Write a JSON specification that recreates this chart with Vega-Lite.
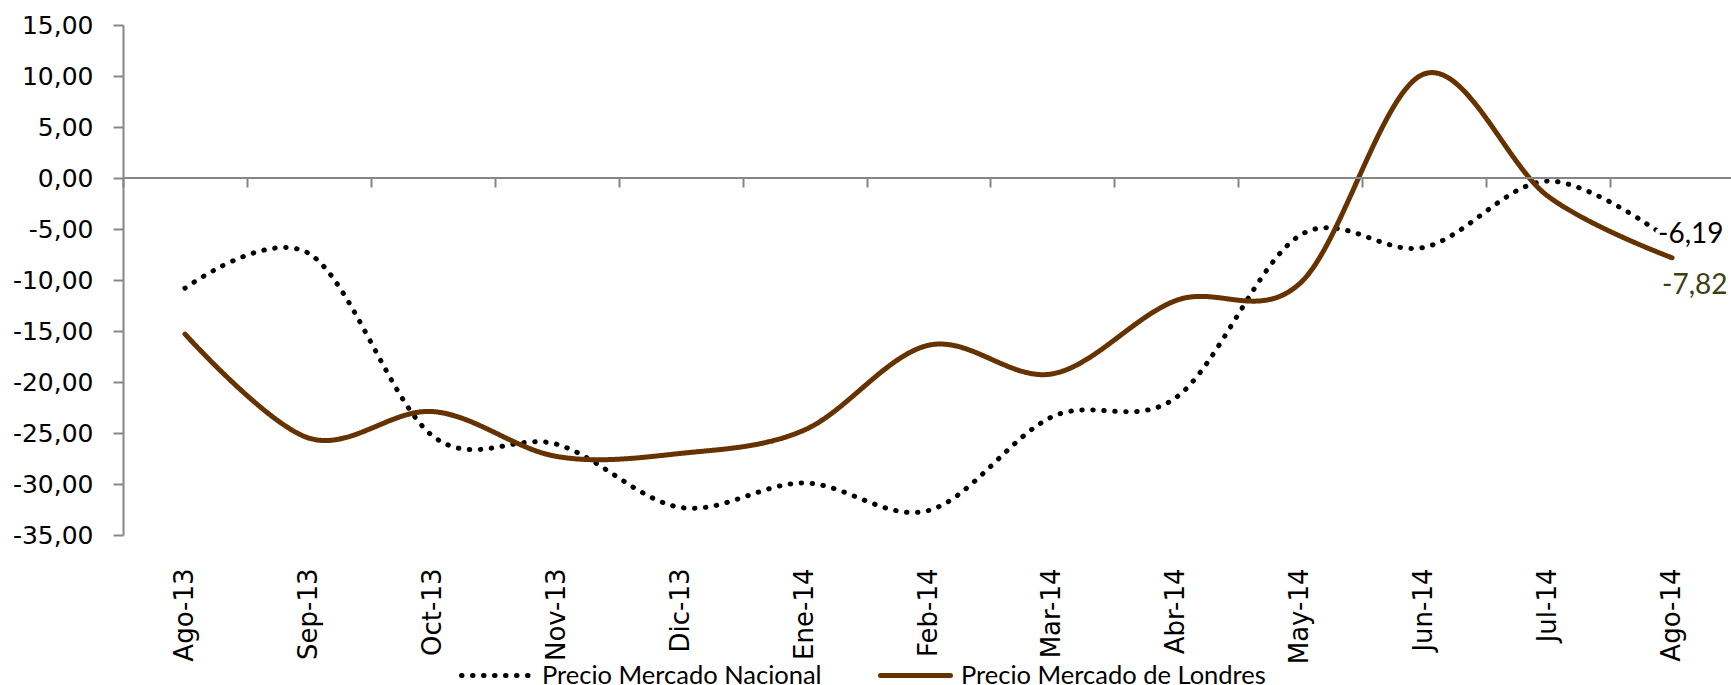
{
  "$schema": "https://vega.github.io/schema/vega-lite/v6.json",
  "autosize": {"type": "none"},
  "padding": {"left": 123, "top": 25, "right": 0, "bottom": 150},
  "width": 1611,
  "height": 510,
  "background": "white",
  "config": {
    "view": {"stroke": null},
    "locale": {"number": {"decimal": ",", "thousands": ".", "grouping": [3], "currency": ["", ""], "minus": "-"}}
  },
  "data": {
    "values": [
      {"month": "Ago-13", "series": "Precio Mercado Nacional", "value": -10.8},
      {"month": "Sep-13", "series": "Precio Mercado Nacional", "value": -7.4},
      {"month": "Oct-13", "series": "Precio Mercado Nacional", "value": -25.3},
      {"month": "Nov-13", "series": "Precio Mercado Nacional", "value": -26.1},
      {"month": "Dic-13", "series": "Precio Mercado Nacional", "value": -32.3},
      {"month": "Ene-14", "series": "Precio Mercado Nacional", "value": -29.9},
      {"month": "Feb-14", "series": "Precio Mercado Nacional", "value": -32.6},
      {"month": "Mar-14", "series": "Precio Mercado Nacional", "value": -23.4},
      {"month": "Abr-14", "series": "Precio Mercado Nacional", "value": -21.5},
      {"month": "May-14", "series": "Precio Mercado Nacional", "value": -5.6},
      {"month": "Jun-14", "series": "Precio Mercado Nacional", "value": -6.8},
      {"month": "Jul-14", "series": "Precio Mercado Nacional", "value": -0.3},
      {"month": "Ago-14", "series": "Precio Mercado Nacional", "value": -6.19},
      {"month": "Ago-13", "series": "Precio Mercado de Londres", "value": -15.3},
      {"month": "Sep-13", "series": "Precio Mercado de Londres", "value": -25.5},
      {"month": "Oct-13", "series": "Precio Mercado de Londres", "value": -22.9},
      {"month": "Nov-13", "series": "Precio Mercado de Londres", "value": -27.3},
      {"month": "Dic-13", "series": "Precio Mercado de Londres", "value": -27.0},
      {"month": "Ene-14", "series": "Precio Mercado de Londres", "value": -24.7},
      {"month": "Feb-14", "series": "Precio Mercado de Londres", "value": -16.4},
      {"month": "Mar-14", "series": "Precio Mercado de Londres", "value": -19.2},
      {"month": "Abr-14", "series": "Precio Mercado de Londres", "value": -12.0},
      {"month": "May-14", "series": "Precio Mercado de Londres", "value": -10.3},
      {"month": "Jun-14", "series": "Precio Mercado de Londres", "value": 10.2},
      {"month": "Jul-14", "series": "Precio Mercado de Londres", "value": -1.8},
      {"month": "Ago-14", "series": "Precio Mercado de Londres", "value": -7.82}
    ]
  },
  "resolve": {"axis": {"x": "independent"}},
  "layer": [
    {
      "mark": {"type": "line", "interpolate": "cardinal", "tension": 0, "strokeWidth": 5, "strokeCap": "round"},
      "encoding": {
        "x": {
          "field": "month", "type": "nominal", "sort": null, "bandPosition": 0.5,
          "scale": {"type": "band", "paddingInner": 0, "paddingOuter": 0},
          "axis": {
            "orient": "bottom", "title": null, "domain": false, "ticks": false,
            "labelAngle": 270, "labelPadding": 33, "labelFont": "DejaVu Sans", "labelFontSize": 26,
            "labelColor": "#000000"
          }
        },
        "y": {
          "field": "value", "type": "quantitative",
          "scale": {"domain": [-35, 15], "nice": false, "zero": false},
          "axis": {
            "title": null, "grid": false, "values": [-35, -30, -25, -20, -15, -10, -5, 0, 5, 10, 15],
            "format": ".2f", "labelFont": "DejaVu Sans", "labelFontSize": 25, "labelColor": "#000000",
            "domainColor": "#868686", "domainWidth": 2, "tickColor": "#868686", "tickWidth": 2,
            "tickSize": 10, "labelPadding": 20
          }
        },
        "color": {
          "field": "series", "type": "nominal",
          "scale": {"domain": ["Precio Mercado Nacional", "Precio Mercado de Londres"], "range": ["#000000", "#663300"]},
          "legend": {
            "title": null, "orient": "none", "direction": "horizontal", "legendX": 336, "legendY": 613,
            "symbolType": "stroke", "symbolSize": 4900, "symbolStrokeWidth": 5,
            "labelFont": "Lato", "labelFontSize": 25.5, "labelColor": "#000000", "labelOffset": 8, "labelLimit": 0,
            "columnPadding": 48, "padding": 0,
            "encoding": {"symbols": {"strokeCap": {"value": "round"}}}
          }
        },
        "strokeDash": {
          "field": "series", "type": "nominal",
          "scale": {"domain": ["Precio Mercado Nacional", "Precio Mercado de Londres"], "range": [[0.5, 10.5], [1, 0]]},
          "legend": null
        }
      }
    },
    {
      "data": {"values": [{}]},
      "mark": {"type": "rule", "color": "#868686", "strokeWidth": 2},
      "encoding": {"y": {"datum": 0, "type": "quantitative"}}
    },
    {
      "transform": [{"filter": "datum.month == 'Ago-14' && datum.series == 'Precio Mercado Nacional'"}],
      "mark": {"type": "text", "align": "left", "baseline": "alphabetic", "dx": -14, "dy": 2, "font": "Lato", "fontSize": 28, "color": "#ffffff", "stroke": "#ffffff", "strokeWidth": 9, "strokeJoin": "round"},
      "encoding": {
        "x": {
          "field": "month", "type": "nominal", "sort": null, "bandPosition": 0.5,
          "axis": {
            "orient": "bottom", "offset": -357, "title": null, "domain": false, "labels": false,
            "ticks": true, "tickBand": "extent", "tickSize": 9, "tickColor": "#868686", "tickWidth": 2
          }
        },
        "y": {"field": "value", "type": "quantitative"},
        "text": {"field": "value", "type": "quantitative", "format": ".2f"}
      }
    },
    {
      "transform": [{"filter": "datum.month == 'Ago-14' && datum.series == 'Precio Mercado de Londres'"}],
      "mark": {"type": "text", "align": "left", "baseline": "alphabetic", "dx": -10, "dy": 36, "font": "Lato", "fontSize": 28, "color": "#ffffff", "stroke": "#ffffff", "strokeWidth": 9, "strokeJoin": "round"},
      "encoding": {
        "x": {"field": "month", "type": "nominal", "sort": null, "bandPosition": 0.5, "axis": null},
        "y": {"field": "value", "type": "quantitative"},
        "text": {"field": "value", "type": "quantitative", "format": ".2f"}
      }
    },
    {
      "transform": [{"filter": "datum.month == 'Ago-14' && datum.series == 'Precio Mercado Nacional'"}],
      "mark": {"type": "text", "align": "left", "baseline": "alphabetic", "dx": -14, "dy": 2, "font": "Lato", "fontSize": 28, "color": "#000000"},
      "encoding": {
        "x": {"field": "month", "type": "nominal", "sort": null, "bandPosition": 0.5, "axis": null},
        "y": {"field": "value", "type": "quantitative"},
        "text": {"field": "value", "type": "quantitative", "format": ".2f"}
      }
    },
    {
      "transform": [{"filter": "datum.month == 'Ago-14' && datum.series == 'Precio Mercado de Londres'"}],
      "mark": {"type": "text", "align": "left", "baseline": "alphabetic", "dx": -10, "dy": 36, "font": "Lato", "fontSize": 28, "color": "#403F12"},
      "encoding": {
        "x": {"field": "month", "type": "nominal", "sort": null, "bandPosition": 0.5, "axis": null},
        "y": {"field": "value", "type": "quantitative"},
        "text": {"field": "value", "type": "quantitative", "format": ".2f"}
      }
    }
  ]
}
